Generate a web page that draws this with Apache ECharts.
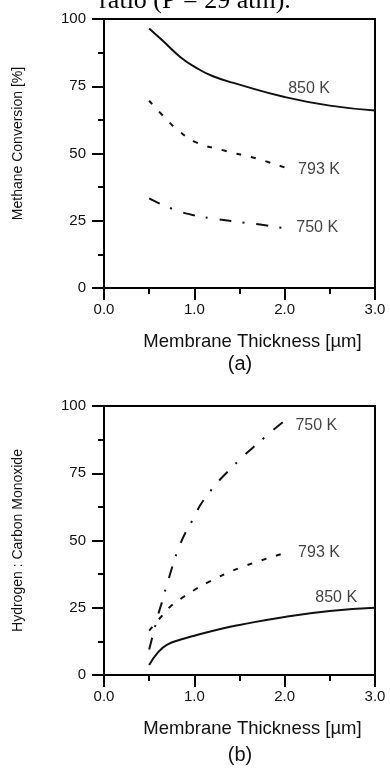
<!DOCTYPE html>
<html>
<head>
<meta charset="utf-8">
<script src="https://cdn.jsdelivr.net/npm/echarts@6/dist/echarts.min.js"></script>
<style>
	html, body { margin: 0; padding: 0; background: #fff; }
	#chart { width: 390px; height: 770px; }
</style>
</head>
<body>
<div id="chart"></div>
<script>
/* Data: [thickness um, value] */
const conv850 = [[0.5, 96.5], [0.66, 91.6], [0.84, 86], [1.0, 82.3], [1.2, 78.8], [1.5, 75.6], [2.0, 71], [2.5, 67.8], [3.0, 66]];
const conv793 = [[0.5, 69.6], [0.74, 61], [0.84, 58.1], [1.0, 54.4], [1.34, 51], [1.68, 48.2], [2.0, 44.8]];
const conv750 = [[0.5, 33.3], [0.75, 29.5], [1.0, 27], [1.25, 25.6], [1.5, 24.5], [1.75, 23.5], [2.0, 22.2]];

const ratio850 = [[0.5, 3.7], [0.6, 8.5], [0.7, 11.3], [0.85, 13.2], [1.0, 14.6], [1.3, 17.2], [1.5, 18.6], [2.0, 21.6], [2.5, 23.8], [3.0, 25]];
const ratio793 = [[0.5, 16.5], [0.62, 21.2], [0.73, 25.3], [0.87, 28.8], [1.0, 31.6], [1.16, 34.6], [1.5, 39.8], [2.0, 45.3]];
const ratio750 = [[0.5, 9.5], [0.55, 16], [0.6, 22.5], [0.65, 28], [0.7, 34], [0.84, 48.3], [0.98, 57.6], [1.12, 65.8], [1.42, 77.3], [1.77, 88.1], [2.0, 94.5]];

/* Curve labels, placed in data units */
const labelsA = [["850 K", 2.27, 74.2], ["793 K", 2.38, 44.2], ["750 K", 2.36, 22.3]];
const labelsB = [["750 K", 2.35, 92.9], ["793 K", 2.38, 45.4], ["850 K", 2.57, 28.6]];

const xTicks = { min: 0, max: 3, interval: 1 };
const yTicks = { min: 0, max: 100, interval: 25 };

const FONT = "'Liberation Sans', Arial, sans-serif";
const INK = "#111";
const TEXT = "#111";

/* Line styles */
const solid = () => ({ color: INK, width: 2, type: "solid" });
const dashed = () => ({ color: INK, width: 2, type: [5, 10], cap: "butt" });
const dashDot = () => ({ color: INK, width: 2, type: [12, 11, 2, 12], cap: "butt" });

const tickStyle = () => ({ color: "#000", width: 2 });

function xAxis_default(gridIndex) {
	return {
		gridIndex: gridIndex,
		type: "value",
		min: xTicks.min,
		max: xTicks.max,
		interval: xTicks.interval,
		name: "Membrane Thickness [\u00b5m]",
		nameLocation: "middle",
		nameGap: 44,
		nameTextStyle: {
			fontFamily: FONT,
			fontSize: 18.5,
			color: TEXT,
			padding: [0, 0, 0, 26],
		},
		axisLine: { onZero: false, lineStyle: tickStyle() },
		axisTick: { show: true, inside: false, length: 12, lineStyle: tickStyle() },
		minorTick: { show: true, splitNumber: 2, length: 6, lineStyle: tickStyle() },
		axisLabel: {
			margin: 14,
			fontFamily: FONT,
			fontSize: 15,
			color: TEXT,
			formatter: (v) => v.toFixed(1),
		},
		splitLine: { show: false },
	};
}

function yAxis_default(gridIndex, name, namePadding) {
	return {
		gridIndex: gridIndex,
		type: "value",
		min: yTicks.min,
		max: yTicks.max,
		interval: yTicks.interval,
		name: name,
		nameLocation: "middle",
		nameRotate: 90,
		nameGap: 79,
		nameTextStyle: {
			fontFamily: FONT,
			fontSize: 14,
			color: TEXT,
			padding: namePadding,
		},
		axisLine: { onZero: false, lineStyle: tickStyle() },
		axisTick: { show: true, inside: false, length: 12, lineStyle: tickStyle() },
		minorTick: { show: true, splitNumber: 2, length: 6, lineStyle: tickStyle() },
		axisLabel: {
			margin: 18,
			fontFamily: FONT,
			fontSize: 15,
			color: TEXT,
		},
		splitLine: { show: false },
	};
}

function curve(idx, data, lineStyle) {
	return {
		type: "line",
		xAxisIndex: idx,
		yAxisIndex: idx,
		data: data,
		showSymbol: false,
		smooth: 0.5,
		lineStyle: lineStyle,
		silent: true,
	};
}

function labelSeries(idx, labels) {
	return {
		type: "scatter",
		xAxisIndex: idx,
		yAxisIndex: idx,
		symbolSize: 0,
		silent: true,
		data: labels.map((l) => ({ name: l[0], value: [l[1], l[2]] })),
		label: {
			show: true,
			position: "inside",
			formatter: "{b}",
			fontFamily: FONT,
			fontSize: 16,
			color: TEXT,
		},
	};
}

const option = {
	animation: false,
	backgroundColor: "#fff",
	grid: [
		{ left: 104, top: 19, width: 271, height: 269, show: true, borderColor: "#000", borderWidth: 2, containLabel: false },
		{ left: 104, top: 406, width: 271, height: 269, show: true, borderColor: "#000", borderWidth: 2, containLabel: false },
	],
	xAxis: [xAxis_default(0), xAxis_default(1)],
	yAxis: [
		// the upper title sits a little above the middle of its axis
		yAxis_default(0, "Methane Conversion [%]", [0, 0, 0, 20]),
		yAxis_default(1, "Hydrogen : Carbon Monoxide", 0),
	],
	series: [
		curve(0, conv850, solid()),
		curve(0, conv793, dashed()),
		curve(0, conv750, dashDot()),
		labelSeries(0, labelsA),
		curve(1, ratio850, solid()),
		curve(1, ratio793, dashed()),
		curve(1, ratio750, dashDot()),
		labelSeries(1, labelsB),
	],
	graphic: [
		{
			type: "text",
			x: 195,
			y: 1,
			style: {
				text: "ratio (P = 29 atm).",
				font: "26px 'Liberation Serif', 'Times New Roman', serif",
				fill: "#000",
				align: "center",
				verticalAlign: "middle",
			},
		},
		{
			type: "text",
			x: 240,
			y: 364,
			style: { text: "(a)", font: "20px " + FONT, fill: TEXT, align: "center", verticalAlign: "middle" },
		},
		{
			type: "text",
			x: 240,
			y: 755,
			style: { text: "(b)", font: "20px " + FONT, fill: TEXT, align: "center", verticalAlign: "middle" },
		},
	],
};

const myChart = echarts.init(document.getElementById("chart"), null, { renderer: "canvas" });
myChart.setOption(option);
</script>
</body>
</html>
